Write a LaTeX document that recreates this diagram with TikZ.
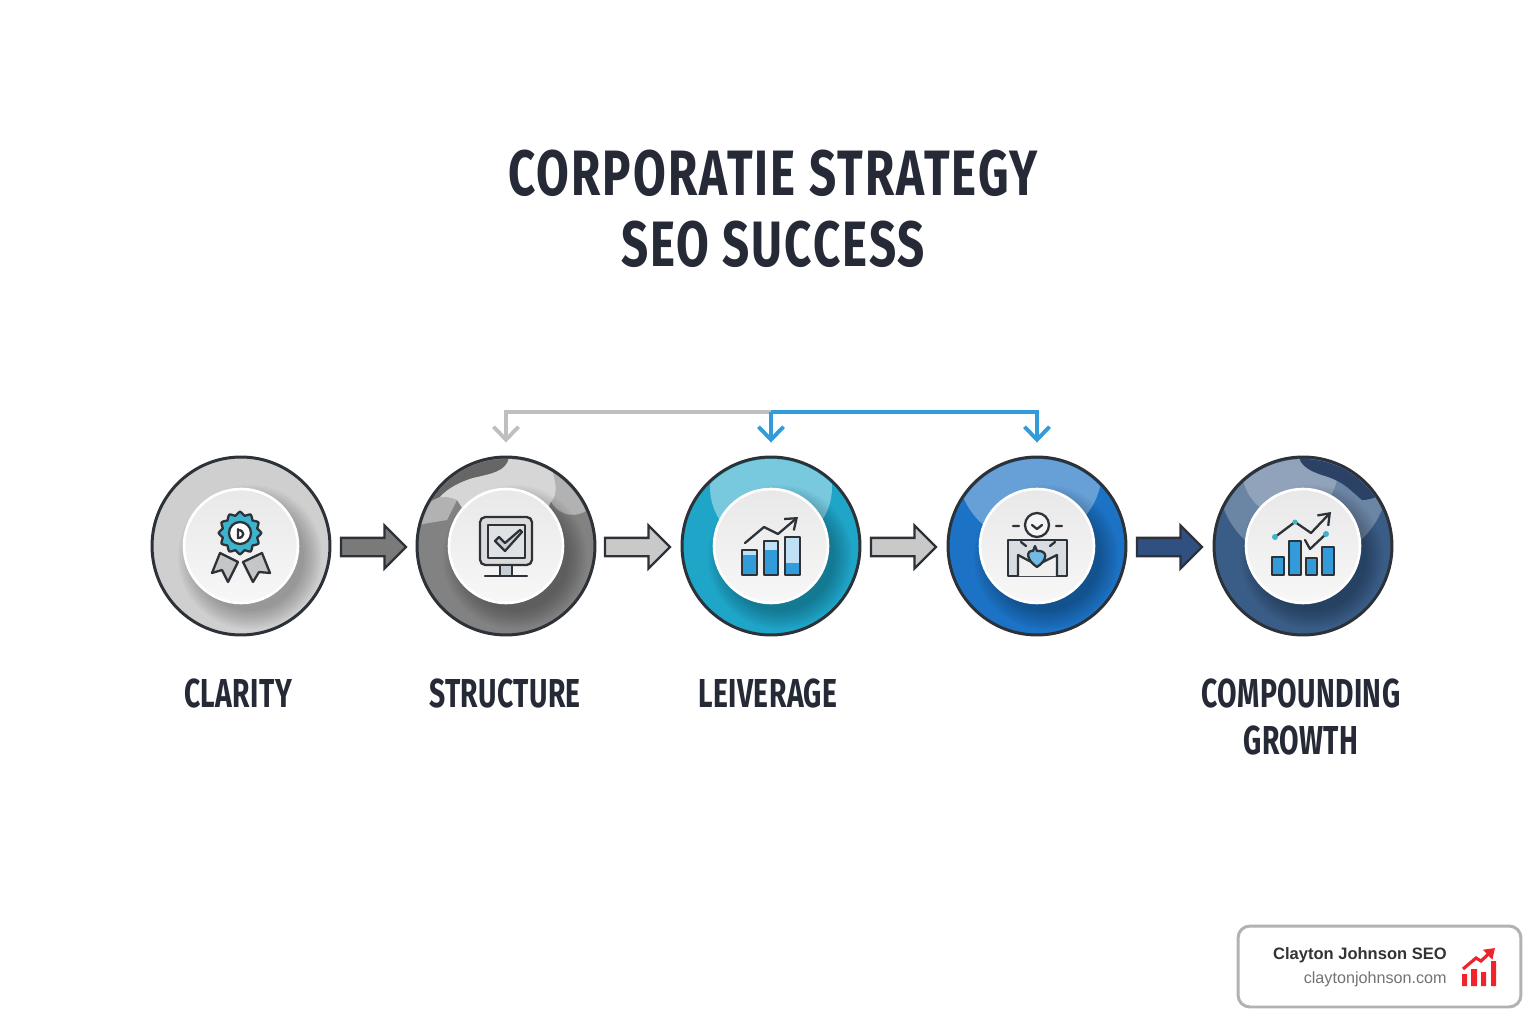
\documentclass[tikz,border=0pt]{standalone}
\usepackage{fontspec}
\setmainfont{Liberation Sans}
\newfontfamily\headfont[FakeStretch=.74, LetterSpace=3.2]{Fira Sans}
\newfontfamily\stagefont[FakeStretch=.7, LetterSpace=1]{Fira Sans}
\usepackage{tikz}
\usetikzlibrary{arrows.meta,shapes.arrows}
\definecolor{inkdark}{HTML}{252A36}
\definecolor{rimdark}{HTML}{2C3238}
\definecolor{iconblue}{HTML}{329CDA}
\definecolor{iconpale}{HTML}{BFE0F5}
\definecolor{icongray}{HTML}{C9CED4}
\definecolor{iconteal}{HTML}{3DB4CE}
\definecolor{logored}{HTML}{F0242A}
\definecolor{discteal}{HTML}{1EA5C8}
\definecolor{discblue}{HTML}{1C72C4}
\definecolor{discnavy}{HTML}{3A5D87}
\definecolor{discdeep}{HTML}{2B4266}
\definecolor{arrownavy}{HTML}{2F5080}
\tikzset{
	disc/.style={circle, draw=rimdark, line width=1.7pt, minimum size=3.56cm, inner sep=0pt}
}
\tikzset{
	hub/.style={circle, draw=white, line width=1.5pt, minimum size=2.28cm, inner sep=0pt,
		top color=gray!18, bottom color=gray!6}
}
\tikzset{
	hubshadow/.style={fill=black, opacity=.026}
}
\tikzset{
	blockarrow/.style={single arrow, draw=rimdark, line width=1.3pt, minimum width=.82cm,
		minimum height=1.3cm, inner xsep=0pt, inner ysep=.16cm, single arrow head extend=.25cm,
		single arrow head indent=0pt}
}
\tikzset{
	stagelabel/.style={text=inkdark, align=center, inner sep=0pt,
		font=\stagefont\bfseries\fontsize{23}{26.7}\selectfont}
}
\tikzset{
	feedback/.style={line width=2.2pt, shorten >=.26cm, -{Straight Barb[length=2.6mm, width=5mm, line width=2.2pt]}}
}
\tikzset{
	icon/.style={draw=rimdark, line width=1.3pt, line join=round, line cap=round}
}

\begin{document}
\begin{tikzpicture}[x=.02cm, y=-.02cm]
	\useasboundingbox (0,0) rectangle (1536,1024);

	\node (title) [text=inkdark, align=center, inner sep=0pt,
		font=\headfont\bfseries\fontsize{36.5}{40.4}\selectfont] at (773,209)
		{CORPORATIE STRATEGY\\SEO SUCCESS};

	% stages
	\node (clarity) [disc, fill=gray!38] at (241,546) {};
	\node (structure) [disc, fill=gray!98] at (506,546) {};
	\node (leverage) [disc, fill=discteal] at (771,546) {};
	\node (authority) [disc, fill=discblue] at (1037,546) {};
	\node (growth) [disc, fill=discnavy] at (1303,546) {};

	% highlights
	\begin{scope}
		\clip (structure.center) circle (87);
		\fill[black!60] (417,470) -- (509,450) -- (509,458) .. controls (506,472) and (490,474) .. (473,478)
			.. controls (460,482) and (448,488) .. (440,497) -- (417,510) -- cycle;
		\fill[gray!60] (417,525) -- (447,520) -- (457,500) .. controls (452,498) and (448,497) .. (440,497)
			.. controls (432,500) and (425,505) .. (417,510) -- cycle;
		\fill[gray!60] (550,500) .. controls (556,512) and (570,520) .. (586,511) -- (586,470) -- (550,470) -- cycle;
		\fill[gray!32] (509,458) .. controls (506,472) and (490,474) .. (473,478)
			.. controls (460,482) and (448,488) .. (440,497) .. controls (448,497) and (452,498) .. (457,500)
			-- (470,520) -- (545,520) -- (550,503) .. controls (558,495) and (556,485) .. (553,473)
			.. controls (545,465) and (525,458) .. cycle;
	\end{scope}
	\begin{scope}
		\clip (leverage.center) circle (87);
		\fill[white, opacity=.4] (771,487) circle (61);
	\end{scope}
	\begin{scope}
		\clip (authority.center) circle (87);
		\fill[white, opacity=.33] (1030,470) circle (72);
	\end{scope}
	\begin{scope}
		\clip (growth.center) circle (87);
		\fill[white, opacity=.25] (1303,478) circle (85);
		\fill[white, opacity=.25] (1290,470) circle (48);
		\fill[discdeep] (1300,450) .. controls (1296,462) and (1305,470) .. (1325,476)
			.. controls (1345,482) and (1352,492) .. (1362,500) .. controls (1372,500) and (1380,495) .. (1392,490) -- (1392,450) -- cycle;
	\end{scope}

	\foreach \stage in {clarity, structure, leverage, authority, growth}{
		\foreach \spread in {54,56,...,72}{
			\fill[hubshadow] ([shift={(9,11)}]\stage.center) circle (\spread);
		}
	}
	\node (clarityhub) [hub] at (clarity.center) {};
	\node (structurehub) [hub] at (structure.center) {};
	\node (leveragehub) [hub] at (leverage.center) {};
	\node (authorityhub) [hub] at (authority.center) {};
	\node (growthhub) [hub] at (growth.center) {};

	% block arrows between the stages
	\node (step1) [blockarrow, fill=black!52] at (369,547) {};
	\node (step2) [blockarrow, fill=gray!42] at (633,547) {};
	\node (step3) [blockarrow, fill=gray!42] at (899,547) {};
	\node (step4) [blockarrow, fill=arrownavy] at (1165,547) {};

	% feedback lines
	\coordinate (split) at (771,412);
	\draw[feedback, color=gray!50] (split) -| (structure.north);
	\draw[feedback, color=iconblue] (split) -- (leverage.north);
	\draw[feedback, color=iconblue] (split) -| (authority.north);

	% labels
	\node (claritylabel) [stagelabel] at (238,693) {CLARITY};
	\node (structurelabel) [stagelabel] at (505,693) {STRUCTURE};
	\node (leveragelabel) [stagelabel] at (768,693) {LEIVERAGE};
	\node (growthlabel) [stagelabel] at (1301,717) {COMPOUNDING\\GROWTH};

	% ribbon icon
	\draw[icon, fill=gray!45] (220,553) -- (238,562) -- (228,582) -- (222,570) -- (212,573) -- cycle;
	\draw[icon, fill=gray!45] (262,553) -- (243,562) -- (253,582) -- (259,572) -- (270,573) -- cycle;
	\draw[icon, fill=iconteal] plot[smooth cycle, samples=48, domain=0:352.5]
		({240+(19.5+1.8*cos(12*\x))*cos(\x)},{533+(19.5+1.8*cos(12*\x))*sin(\x)});
	\draw[icon, fill=white] (240,533) circle (11);
	\draw[icon] (238,529) -- (238,538) .. controls (245,538) and (245,530) .. (238,530);

	% monitor icon
	\draw[icon, rounded corners=3pt, fill=gray!28] (480,517) rectangle (532,565);
	\draw[icon, fill=icongray!60] (488,525) rectangle (525,558);
	\draw[icon, fill=icongray] (495,541) -- (505,551) -- (522,532) -- (520,530) -- (505,543) -- (499,537) -- cycle;
	\draw[icon, fill=icongray] (500,565) rectangle (512,576);
	\draw[icon] (485,576) -- (527,576);

	% bars icon
	\draw[icon, fill=iconpale] (742,550) rectangle (757,575);
	\fill[iconblue] (743,555) rectangle (756,574);
	\draw[icon, fill=iconpale] (764,541) rectangle (778,575);
	\fill[iconblue] (765,550) rectangle (777,574);
	\draw[icon, fill=iconpale] (785,537) rectangle (800,575);
	\fill[iconblue] (786,563) rectangle (799,574);
	\draw[icon, -{Straight Barb[length=2mm, width=3mm]}] (745,543) -- (764,527) -- (778,534) -- (798,517);

	% person icon
	\draw[icon, fill=icongray!70] (1008,576) -- (1008,540) -- (1027,540) -- (1048,540) -- (1067,540) -- (1067,576) -- cycle;
	\draw[icon, fill=gray!12] (1018,576) -- (1018,555) -- (1037,565) -- (1057,555) -- (1057,576);
	\draw[icon, fill=iconblue!70] (1037,567) .. controls (1026,560) and (1026,550) .. (1033,551)
		-- (1035,546) -- (1037,551) .. controls (1048,550) and (1048,560) .. cycle;
	\draw[icon, fill=gray!8] (1037,525) circle (12);
	\draw[icon] (1032,525) -- (1037,529) -- (1042,525);
	\draw[icon] (1013,526) -- (1019,526) (1056,526) -- (1062,526) (1021,542) -- (1026,546) (1055,542) -- (1050,546);

	% growth icon
	\foreach \barl/\bart/\barr in {1272/557/1284, 1289/541/1301, 1306/558/1317, 1322/547/1334}{
		\draw[icon, fill=iconblue] (\barl,\bart) rectangle (\barr,575);
	}
	\draw[icon, -{Straight Barb[length=2mm, width=3mm]}] (1275,537) -- (1295,522) -- (1311,533) -- (1331,512);
	\draw[icon] (1305,540) -- (1310,549) -- (1326,534);
	\fill[iconteal] (1275,537) circle (3) (1295,522) circle (2.5) (1326,534) circle (3);

	% badge
	\node (badge) [draw=gray!60, fill=white, line width=1.7pt, rounded corners=6.8pt, minimum width=5.66cm,
		minimum height=1.62cm, inner sep=0pt] at (1379.5,966.5) {};
	\node (badgename) [anchor=east, inner sep=0pt, text=black!80, font=\bfseries\fontsize{9.4}{11}\selectfont] at (1447,955) {Clayton Johnson SEO};
	\node (badgeurl) [anchor=east, inner sep=0pt, text=black!55, font=\fontsize{9.2}{11}\selectfont] at (1447,979) {claytonjohnson.com};
	\fill[logored] (1462,974) rectangle (1467,986) (1471,969) rectangle (1477,986)
		(1481,972) rectangle (1486,986) (1491,961) rectangle (1496,986);
	\draw[logored, line width=1.8pt, -{Triangle[length=2mm, width=2.6mm]}] (1463,969) -- (1476,958) -- (1481,961) -- (1495,948);
\end{tikzpicture}
\end{document}
